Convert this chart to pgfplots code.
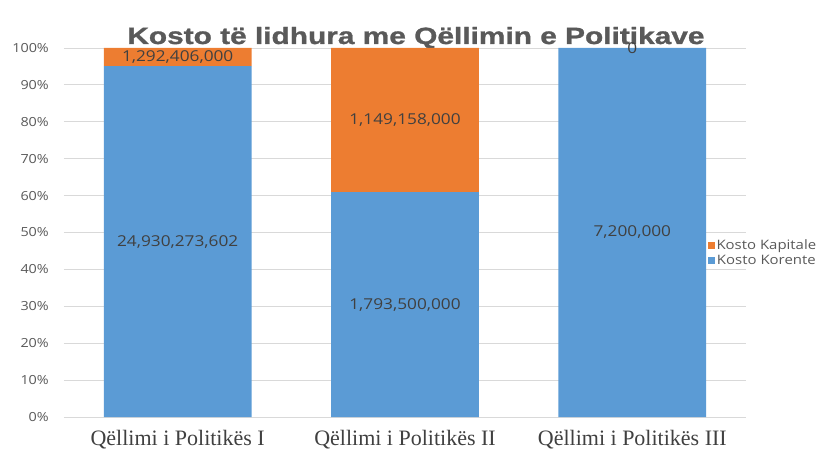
\documentclass[border=0pt]{standalone}
\usepackage{pgfplots}
\pgfplotsset{compat=1.18}
\usepackage{pgfplotstable}
\usepackage{fontspec}
\setmainfont{Open Sans}
\newfontfamily\labfont[FakeStretch=1.15]{Open Sans}
\newfontfamily\titlefont[FakeStretch=1.27, BoldFeatures={FakeBold=1.2}]{Liberation Sans}
\newfontfamily\xfont{Liberation Serif}
\definecolor{cblue}{HTML}{5B9BD5}
\definecolor{corange}{HTML}{ED7D31}
\definecolor{cgrid}{HTML}{D9D9D9}
\definecolor{ctick}{HTML}{595959}
\definecolor{clab}{HTML}{404040}

% shares in percent; mkor/mkap = middle of each segment (label position)
\pgfplotstableread{
x kor kap mkor mkap labkor labkap
0 95.07 4.93 47.535 97.535 24,930,273,602 1,292,406,000
1 60.95 39.05 30.475 80.475 1,793,500,000 1,149,158,000
2 100 0 50 100 7,200,000 0
}\data

\pgfplotsset{geom/.style={at={(0,0)}, anchor=south west,
  scale only axis, width=682pt, height=369pt,
  xmin=-0.5, xmax=2.5, ymin=0, ymax=100}}

\begin{document}
\begin{tikzpicture}
\path[use as bounding box] (-64pt,-33pt) rectangle (752pt,417pt);
\begin{axis}[
  geom,
  ybar stacked, bar width=0.65,
  xtick={0,1,2},
  xticklabels={Qëllimi i Politikës I, Qëllimi i Politikës II, Qëllimi i Politikës III},
  ytick={0,10,...,100},
  yticklabel={\pgfmathprintnumber{\tick}\%},
  /pgf/number format/assume math mode=true,
  ymajorgrids, grid style={draw=cgrid, line width=0.8pt},
  axis line style={draw=none},
  major tick length=0pt,
  yticklabel style={font=\labfont\fontsize{12.5}{14}\selectfont, text=ctick, inner sep=0pt, xshift=-15pt},
  xticklabel style={font=\xfont\fontsize{22}{24}\selectfont, text=clab, inner sep=0pt, yshift=-13pt},
  reverse legend,
  legend style={at={(rel axis cs:0.944,0.444)}, anchor=west, draw=none, fill=none,
    font=\labfont\fontsize{13}{15}\selectfont, text=ctick, inner sep=0pt,
    row sep=1pt, nodes={inner sep=1.5pt}},
  legend image code/.code={\fill[#1] (0pt,-3.5pt) rectangle (7pt,3.5pt);},
  clip=false,
]
\addplot[fill=cblue, draw=none] table[x=x, y=kor] {\data};
\addplot[fill=corange, draw=none] table[x=x, y=kap] {\data};
\legend{Kosto Korente, Kosto Kapitale}
\node[anchor=base, font=\titlefont\bfseries\fontsize{23.5}{25}\selectfont, text=ctick, inner sep=0pt]
  at (rel axis cs:0.516,1) [yshift=4pt] {Kosto të lidhura me Qëllimin e Politikave};
\end{axis}
\begin{axis}[geom, hide axis, clip=false]
\addplot[only marks, mark=none, nodes near coords, point meta=explicit symbolic,
  every node near coord/.style={font=\labfont\fontsize{15}{17}\selectfont, text=clab, anchor=center}]
  table[x=x, y=mkor, meta=labkor] {\data};
\addplot[only marks, mark=none, nodes near coords, point meta=explicit symbolic,
  every node near coord/.style={font=\labfont\fontsize{15}{17}\selectfont, text=clab, anchor=center}]
  table[x=x, y=mkap, meta=labkap] {\data};
\end{axis}
\end{tikzpicture}
\end{document}
